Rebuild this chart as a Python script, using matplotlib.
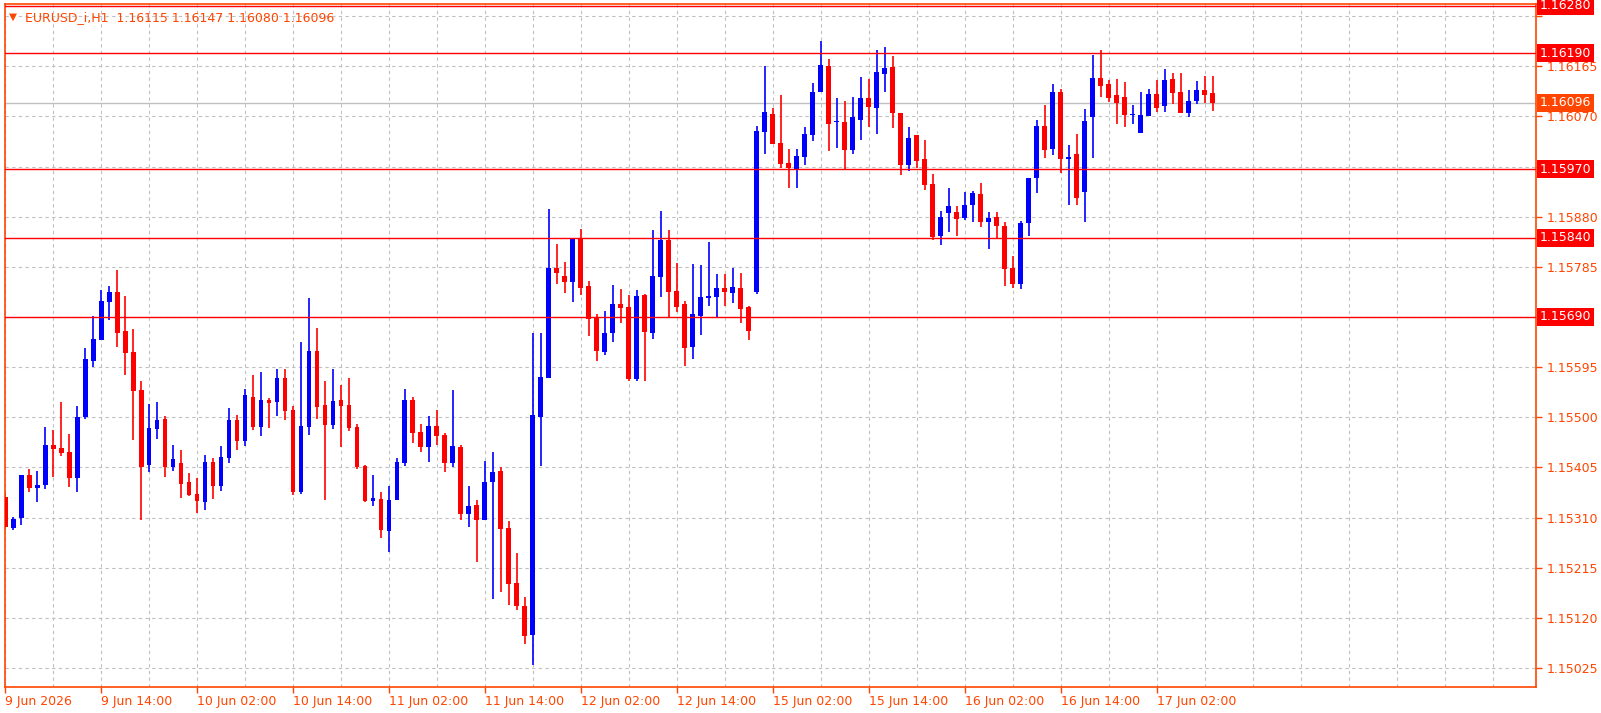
import numpy as np
import matplotlib
matplotlib.use("Agg")
import matplotlib.pyplot as plt

# EURUSD H1 candles, values in 1e-5 units
opens = [115349, 115290, 115309, 115390, 115366, 115372, 115447, 115441, 115435, 115385,
         115500, 115606, 115646, 115718, 115737, 115663, 115624, 115551, 115410, 115478,
         115496, 115406, 115413, 115378, 115355, 115339, 115415, 115370, 115423, 115494,
         115455, 115539, 115482, 115533, 115529, 115574, 115514, 115358, 115482, 115626,
         115523, 115486, 115533, 115523, 115482, 115408, 115341, 115345, 115284, 115343,
         115413, 115533, 115472, 115443, 115484, 115466, 115413, 115443, 115317, 115334,
         115305, 115378, 115398, 115290, 115186, 115142, 115087, 115500, 115574, 115783,
         115767, 115756, 115840, 115748, 115690, 115624, 115659, 115714, 115708, 115572,
         115732, 115659, 115765, 115836, 115739, 115714, 115633, 115692, 115726, 115728,
         115745, 115736, 115745, 115708, 115737, 116040, 116074, 116019, 115981, 115970,
         115993, 116034, 116117, 116165, 116059, 116059, 116007, 116064, 116105, 116086,
         116150, 116163, 116076, 115978, 116034, 115989, 115942, 115844, 115887, 115889,
         115877, 115902, 115923, 115869, 115879, 115862, 115783, 115752, 115868, 115953,
         116052, 116009, 116116, 115989, 115999, 115926, 116068, 116142, 116131, 116110,
         116107, 116072, 116038, 116070, 116113, 116089, 116141, 116116, 116076, 116099,
         116119, 116115]
highs = [115357, 115311, 115390, 115402, 115398, 115482, 115476, 115529, 115468, 115521,
         115631, 115692, 115741, 115748, 115779, 115730, 115667, 115569, 115525, 115529,
         115502, 115447, 115437, 115394, 115384, 115429, 115423, 115445, 115518, 115504,
         115553, 115580, 115586, 115537, 115592, 115592, 115521, 115643, 115726, 115669,
         115569, 115592, 115561, 115574, 115488, 115410, 115390, 115358, 115370, 115423,
         115553, 115539, 115488, 115502, 115514, 115470, 115551, 115447, 115370, 115343,
         115417, 115435, 115406, 115304, 115243, 115160, 115659, 115659, 115895, 115828,
         115794, 115840, 115857, 115758, 115696, 115701, 115750, 115743, 115732, 115741,
         115734, 115855, 115891, 115855, 115792, 115720, 115790, 115789, 115832, 115771,
         115771, 115783, 115773, 115710, 116052, 116165, 116086, 116111, 116009, 116009,
         116050, 116133, 116212, 116178, 116105, 116099, 116107, 116144, 116141, 116196,
         116201, 116184, 116076, 116050, 116034, 116025, 115960, 115891, 115934, 115900,
         115926, 115928, 115944, 115889, 115889, 115869, 115805, 115871, 115954, 116064,
         116091, 116131, 116121, 116015, 116036, 116084, 116186, 116196, 116139, 116141,
         116135, 116091, 116117, 116121, 116139, 116160, 116152, 116152, 116119, 116137,
         116146, 116147]
lows = [115286, 115286, 115296, 115358, 115339, 115364, 115386, 115427, 115368, 115358,
        115496, 115595, 115646, 115684, 115633, 115580, 115457, 115305, 115396, 115459,
        115386, 115398, 115347, 115351, 115319, 115325, 115345, 115360, 115413, 115437,
        115445, 115476, 115465, 115480, 115502, 115494, 115353, 115355, 115466, 115496,
        115343, 115478, 115443, 115474, 115402, 115339, 115331, 115272, 115245, 115343,
        115408, 115451, 115435, 115415, 115447, 115396, 115406, 115305, 115292, 115226,
        115305, 115156, 115169, 115144, 115135, 115071, 115031, 115408, 115574, 115752,
        115736, 115718, 115732, 115654, 115606, 115618, 115643, 115679, 115569, 115569,
        115569, 115648, 115728, 115690, 115700, 115597, 115610, 115655, 115710, 115690,
        115710, 115716, 115679, 115646, 115734, 115999, 116017, 115972, 115934, 115934,
        115978, 116023, 116117, 116005, 116011, 115970, 115999, 116025, 116050, 116036,
        116117, 116048, 115958, 115966, 115972, 115930, 115836, 115826, 115850, 115844,
        115873, 115869, 115860, 115818, 115840, 115748, 115745, 115743, 115844, 115925,
        115991, 115997, 115962, 115903, 115903, 115869, 115991, 116107, 116097, 116056,
        116050, 116056, 116038, 116070, 116078, 116078, 116093, 116076, 116068, 116093,
        116095, 116080]
closes = [115292, 115307, 115390, 115366, 115372, 115447, 115439, 115433, 115385, 115500,
          115610, 115648, 115720, 115737, 115659, 115622, 115549, 115406, 115480, 115494,
          115406, 115421, 115374, 115353, 115341, 115415, 115370, 115425, 115494, 115455,
          115542, 115482, 115533, 115527, 115574, 115512, 115358, 115484, 115626, 115520,
          115486, 115531, 115521, 115480, 115406, 115341, 115347, 115286, 115343, 115415,
          115533, 115470, 115443, 115484, 115465, 115413, 115445, 115317, 115332, 115305,
          115378, 115396, 115288, 115184, 115142, 115086, 115504, 115576, 115783, 115773,
          115756, 115840, 115745, 115686, 115626, 115659, 115714, 115707, 115572, 115730,
          115661, 115767, 115836, 115737, 115708, 115631, 115696, 115728, 115730, 115745,
          115737, 115747, 115705, 115663, 116042, 116078, 116017, 115980, 115972, 115995,
          116036, 116117, 116167, 116056, 116061, 116007, 116068, 116105, 116088, 116154,
          116161, 116076, 115978, 116029, 115985, 115940, 115842, 115879, 115900, 115875,
          115902, 115925, 115869, 115877, 115862, 115781, 115752, 115868, 115954, 116052,
          116007, 116116, 115989, 115993, 115915, 116061, 116142, 116127, 116105, 116095,
          116072, 116074, 116072, 116113, 116086, 116139, 116114, 116076, 116099, 116119,
          116110, 116096]

time_labels = ["9 Jun 2026", "9 Jun 14:00", "10 Jun 02:00", "10 Jun 14:00", "11 Jun 02:00",
               "11 Jun 14:00", "12 Jun 02:00", "12 Jun 14:00", "15 Jun 02:00", "15 Jun 14:00",
               "16 Jun 02:00", "16 Jun 14:00", "17 Jun 02:00"]
levels = [1.16280, 1.16190, 1.15970, 1.15840, 1.15690]
bid = 1.16096
price_ticks = [1.16260 - 0.00095 * k for k in range(14)]

o = np.array(opens) / 1e5
h = np.array(highs) / 1e5
l = np.array(lows) / 1e5
c = np.array(closes) / 1e5
x = np.arange(len(o))

AX = "#FF4500"
fig = plt.figure(figsize=(16.01, 7.13), dpi=100)
ax = fig.add_axes([0.0029, 0.0365, 0.9565, 0.958])

ax.set_xlim(-0.05, 191.4)
ax.set_ylim(1.14989, 1.16283)

for p in price_ticks:
    ax.axhline(p, color="#C0C0C0", lw=0.8, ls=(0, (3, 3)), zorder=0)
for v in range(0, 192, 6):
    ax.axvline(v, color="#C0C0C0", lw=0.8, ls=(0, (3, 3)), zorder=0)

up = c >= o
col = np.where(up, "#0000FF", "#FF0000")
ax.vlines(x, l, h, colors=col, lw=1.2, zorder=2)
body = np.maximum(np.abs(c - o), 0.000012)
ax.bar(x, body, bottom=np.minimum(o, c), width=0.62, color=col, zorder=3)

ax.axhline(bid, color="#C0C0C0", lw=1.0, zorder=1)
for lv in levels:
    ax.axhline(lv, color="#FF0000", lw=1.0, zorder=4)

# tick labels hidden under the level boxes are left blank
def tick_text(p):
    if any(abs(p - lv) < 0.0002 for lv in levels):
        return ""
    return f"{p:.5f}"

ax.yaxis.tick_right()
ax.set_yticks(price_ticks)
ax.set_yticklabels([tick_text(p) for p in price_ticks])
ax.set_xticks(range(0, 145, 12))
ax.set_xticklabels(time_labels, ha="left")
ax.tick_params(axis="both", colors=AX, labelcolor=AX, labelsize=9, length=4, width=1)
ax.tick_params(axis="x", pad=2)
for s in ax.spines.values():
    s.set_color(AX)
    s.set_linewidth(1.2)

tr = ax.get_yaxis_transform()
for lv in levels:
    ax.text(1.0026, lv, f"{lv:.5f}", transform=tr, color="white", fontsize=9,
            va="center", ha="left", zorder=6, clip_on=False,
            bbox=dict(boxstyle="square,pad=0.2", fc="#FF0000", ec="none"))
ax.text(1.0026, bid, f"{bid:.5f}", transform=tr, color="white", fontsize=9,
        va="center", ha="left", zorder=6, clip_on=False,
        bbox=dict(boxstyle="square,pad=0.2", fc="#FF4500", ec="none"))

ax.text(0.003, 0.988, "▼", transform=ax.transAxes, color=AX, fontsize=7.5, va="top")
ax.text(0.013, 0.99, f"EURUSD_i,H1  {o[-1]:.5f} {h[-1]:.5f} {l[-1]:.5f} {c[-1]:.5f}",
        transform=ax.transAxes, color=AX, fontsize=9, va="top")

fig.savefig("out.png", dpi=100)
